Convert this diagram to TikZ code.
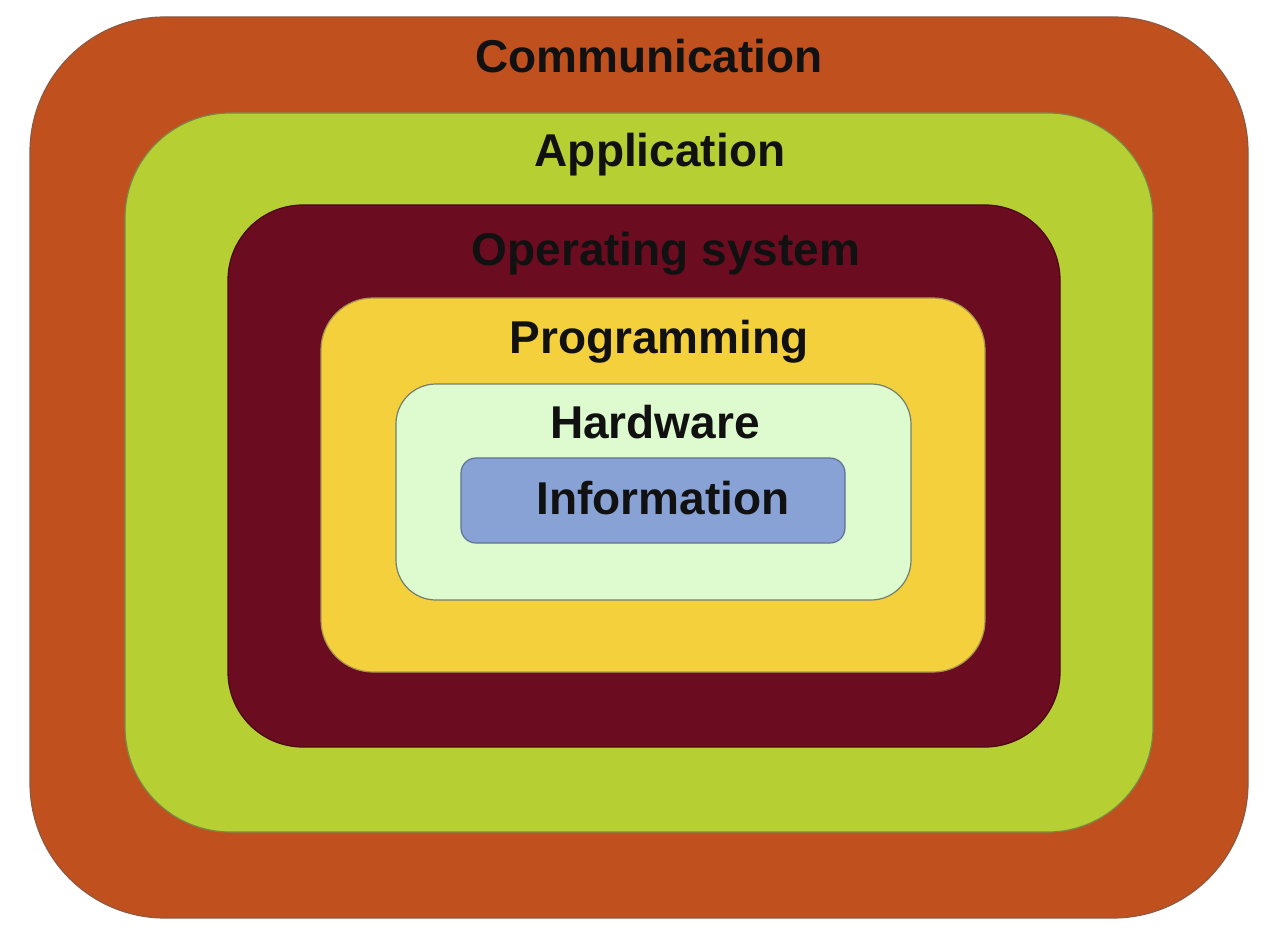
\documentclass[tikz,border=0pt]{standalone}
\usepackage{fontspec}
\setmainfont{Liberation Sans}
\definecolor{cOrange}{HTML}{C0501E}
\definecolor{cGreen}{HTML}{B6CF33}
\definecolor{cMaroon}{HTML}{6B0C21}
\definecolor{cYellow}{HTML}{F3D03C}
\definecolor{cLight}{HTML}{DEFBD0}
\definecolor{cBlue}{HTML}{88A2D6}
\definecolor{cText}{HTML}{111111}
\tikzset{
  layer/.style={line width=1.2pt},
  lbl/.style={anchor=base, text=cText, font=\fontsize{46}{50}\selectfont\bfseries, inner sep=0pt}
}
\begin{document}
\begin{tikzpicture}[x=1pt,y=-1pt]
\useasboundingbox (0,0) rectangle (1271,944);
\fill[white] (0,0) rectangle (1271,944);
\draw[layer, fill=cOrange, draw=cOrange!60!black!80, rounded corners=135pt] (30,17) rectangle (1248,918);
\draw[layer, fill=cGreen, draw=cGreen!50!black!80, rounded corners=105pt] (125,113) rectangle (1153,832);
\draw[layer, fill=cMaroon, draw=cMaroon!70!black, rounded corners=75pt] (228,205) rectangle (1060,747);
\draw[layer, fill=cYellow, draw=cYellow!60!black!80, rounded corners=52pt] (321,298) rectangle (985,672);
\draw[layer, fill=cLight, draw=cLight!45!black!90, rounded corners=40pt] (396,384) rectangle (911,600);
\draw[layer, fill=cBlue, draw=cBlue!70!black, rounded corners=15pt] (461,458) rectangle (845,543);
\node[lbl] (comm) at (649,73) {Communication};
\node[lbl] (app) at (660,167) {Application};
\node[lbl] (os) at (666,265) {Operating system};
\node[lbl] (prog) at (659,353) {Programming};
\node[lbl] (hw) at (655,438) {Hardware};
\node[lbl] (info) at (663,514) {Information};
\end{tikzpicture}
\end{document}
